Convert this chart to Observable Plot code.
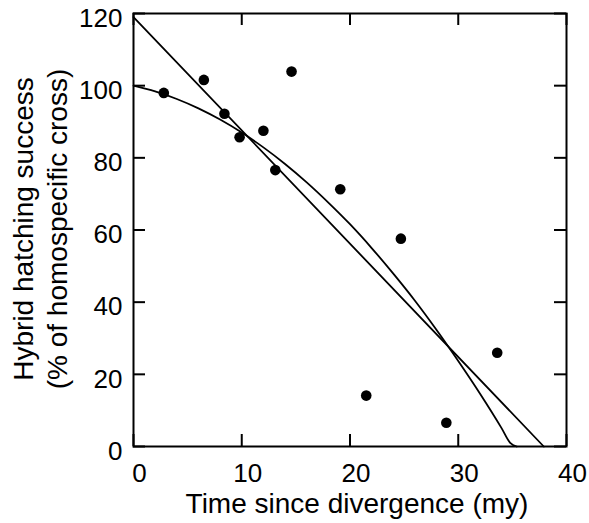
<!DOCTYPE html>
<html>
<head>
<meta charset="utf-8">
<script src="https://cdn.jsdelivr.net/npm/d3@7"></script>
<script src="https://cdn.jsdelivr.net/npm/@observablehq/plot@0.6"></script>
<style>
  html, body { margin: 0; padding: 0; background: white; }
  #chart svg { display: block; }
</style>
</head>
<body>
<div id="chart"></div>
<script>
// Observed data points (time since divergence, hatching success %)
const pointTime = [2.8, 6.5, 8.4, 9.8, 12.0, 13.1, 14.6, 19.1, 21.5, 24.7, 28.9, 33.6];
const pointSuccess = [98, 101.6, 92.2, 85.7, 87.5, 76.6, 103.9, 71.3, 14.1, 57.6, 6.6, 26.0];

// Linear fit line endpoints
const lineTime = [0, 37.9];
const lineSuccess = [119, 0];

// Curved fit
const curveTime = [0, 2, 4, 6, 8, 10, 12, 14, 16, 18, 20, 22, 24, 26, 28, 30, 32, 34, 34.8, 35.4];
const curveSuccess = [100, 98.4, 96.3, 93.7, 90.6, 87.0, 82.9, 78.3, 73.2, 67.6, 61.6, 55.0, 47.9, 40.4, 32.3, 23.7, 14.7, 5.1, 1.0, 0];

// Tick values
const xTicks = [0, 10, 20, 30, 40];
const yTicks = [0, 20, 40, 60, 80, 100, 120];

const xTitle = "Time since divergence (my)";
const yTitle1 = "Hybrid hatching success";
const yTitle2 = "(% of homospecific cross)";

const points = pointTime.map((t, i) => ({x: t, y: pointSuccess[i]}));
const line = lineTime.map((t, i) => ({x: t, y: lineSuccess[i]}));
const curve = curveTime.map((t, i) => ({x: t, y: curveSuccess[i]}));

const font = "'Liberation Sans', Arial, Helvetica, sans-serif";

const W = 589, H = 523;
const mL = 133, mR = 23, mT = 13, mB = 77;
const TL = 12; // inward tick length
const innerW = W - mL - mR, innerH = H - mT - mB;

const chart = Plot.plot({
  width: W,
  height: H,
  marginLeft: mL,
  marginRight: mR,
  marginTop: mT,
  marginBottom: mB,
  style: {fontFamily: font, background: "white", color: "black"},
  x: {domain: [0, 40]},
  y: {domain: [0, 120]},
  marks: [
    // tick labels
    Plot.axisX({ticks: xTicks, tickSize: 0, tickPadding: 17, dx: 6, fontSize: 26, label: null}),
    Plot.axisY({ticks: yTicks, tickSize: 0, tickPadding: 11, dy: 5, fontSize: 26, label: null}),
    // inward ticks on all four sides
    Plot.tickX(xTicks, {x: d => d, insetTop: innerH - TL, stroke: "black", strokeWidth: 2}),
    Plot.tickX(xTicks, {x: d => d, insetBottom: innerH - TL, stroke: "black", strokeWidth: 2}),
    Plot.tickY(yTicks, {y: d => d, insetRight: innerW - TL, stroke: "black", strokeWidth: 2}),
    Plot.tickY(yTicks, {y: d => d, insetLeft: innerW - TL, stroke: "black", strokeWidth: 2}),
    Plot.line(line, {x: "x", y: "y", stroke: "black", strokeWidth: 1.8}),
    Plot.line(curve, {x: "x", y: "y", stroke: "black", strokeWidth: 1.8, curve: "monotone-x"}),
    Plot.dot(points, {x: "x", y: "y", r: 5.3, fill: "black", stroke: "none"}),
    Plot.frame({stroke: "black", strokeWidth: 2})
  ]
});

const svg = d3.select(chart);
svg.append("text")
  .attr("x", 357)
  .attr("y", 513)
  .attr("text-anchor", "middle")
  .attr("font-family", font)
  .attr("font-size", 28)
  .attr("fill", "black")
  .text(xTitle);

const yt = svg.append("text")
  .attr("transform", "translate(0,229) rotate(-90)")
  .attr("text-anchor", "middle")
  .attr("font-family", font)
  .attr("font-size", 28)
  .attr("fill", "black");
yt.append("tspan").attr("x", 0).attr("y", 33).text(yTitle1);
yt.append("tspan").attr("x", 0).attr("y", 67).text(yTitle2);

document.getElementById("chart").appendChild(chart);
</script>
</body>
</html>
